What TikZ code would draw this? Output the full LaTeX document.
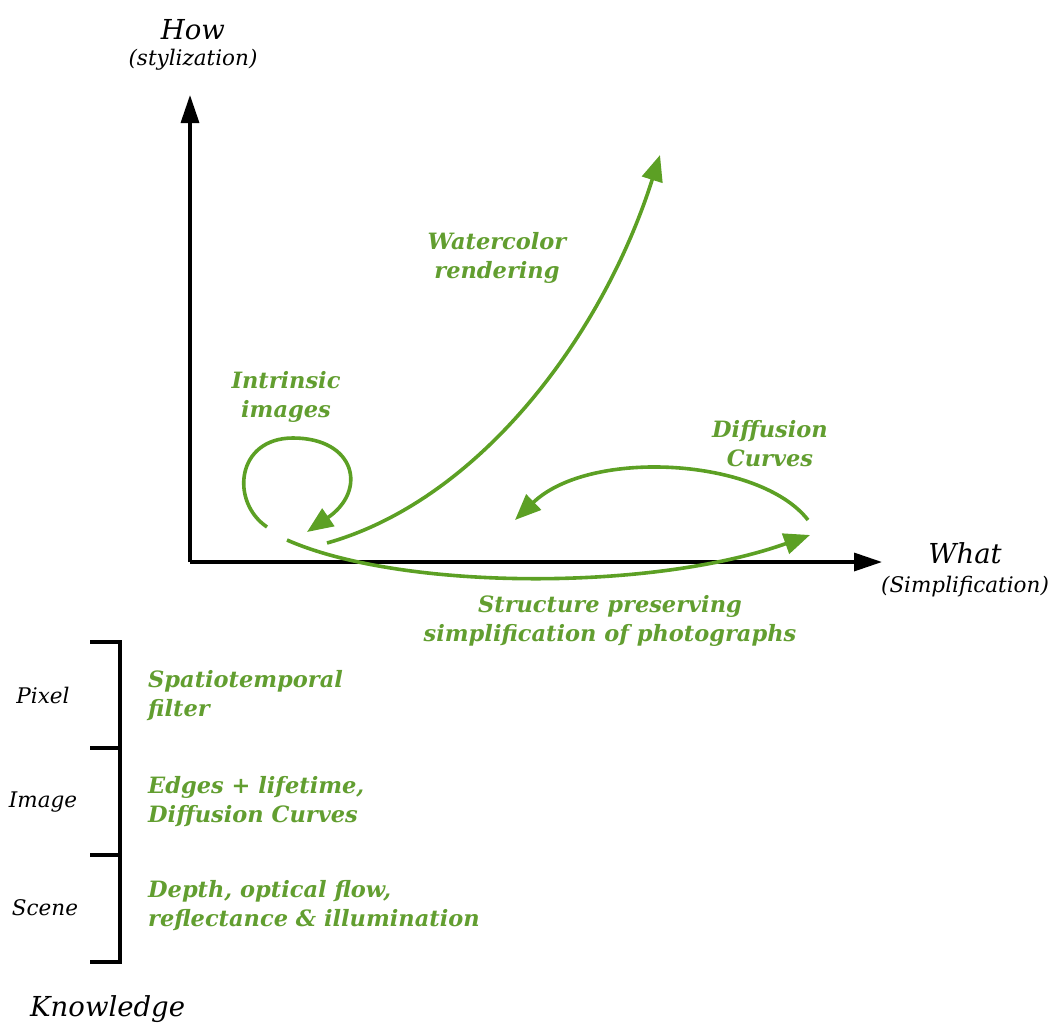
\documentclass[tikz,border=0pt]{standalone}
\usepackage{fontspec}
\setmainfont{DejaVu Serif}
\usetikzlibrary{arrows.meta}
\definecolor{grn}{RGB}{92,160,36}
\definecolor{grntxt}{RGB}{98,158,48}
\tikzset{
  axis/.style={line width=3.4pt,-{Triangle[length=28pt,width=18pt]}},
  flow/.style={draw=grn,line width=3.6pt,-{Triangle[length=26pt,width=21pt]},fill=none},
  flowplain/.style={draw=grn,line width=3.6pt},
  gtxt/.style={text=grntxt,font=\fontsize{22.5}{29}\selectfont\bfseries\itshape,inner sep=0pt},
  ktxt/.style={font=\fontsize{27.5}{32}\selectfont\itshape,inner sep=0pt},
  stxt/.style={font=\fontsize{21.5}{26}\selectfont\itshape,inner sep=0pt},
  brk/.style={line width=3.4pt}
}
\begin{document}
\begin{tikzpicture}[x=1pt,y=-1pt]
\useasboundingbox (0,0) rectangle (1052,1025);
% axes
\coordinate (O) at (190,562);
\coordinate (Ytip) at (190,95);
\coordinate (Xtip) at (882,562);
\draw[axis] (O) -- (Ytip);
\draw[axis] (O) -- (Xtip);
\node[ktxt] (how) at (193,30) {How};
\node[stxt] (sty) at (193,60) {(stylization)};
\node[ktxt] (what) at (965,553) {What};
\node[stxt] (simp) at (965,587) {(Simplification)};
% curves
\coordinate (w0) at (327,543);
\coordinate (w1) at (660,155);
\draw[flow] (w0) .. controls (480,500) and (603,335) .. (w1);
\coordinate (i0) at (267,527);
\coordinate (itop) at (293,438);
\coordinate (i1) at (307,532);
\draw[flowplain] (i0) .. controls (230,502) and (236,438) .. (itop);
\draw[flow] (itop) .. controls (355,438) and (368,490) .. (i1);
\coordinate (s0) at (287,540);
\coordinate (s1) at (810,535);
\draw[flow] (s0) .. controls (400,590) and (650,592) .. (s1);
\coordinate (d0) at (808,520);
\coordinate (d1) at (515,520);
\draw[flow] (d0) .. controls (760,458) and (590,448) .. (d1);
% labels
\node[gtxt,align=center] (wl) at (497,258) {Watercolor\\rendering};
\node[gtxt,align=center] (il) at (286,397) {Intrinsic\\images};
\node[gtxt,align=center] (dl) at (770,444) {Diffusion\\Curves};
\node[gtxt,align=center] (sl) at (610,621) {Structure preserving\\simplification of photographs};
% knowledge brackets
\coordinate (b0) at (120,642);
\coordinate (b1) at (120,748);
\coordinate (b2) at (120,855);
\coordinate (b3) at (120,962);
\draw[brk,line cap=rect] (b0) -- (b3);
\draw[brk] (b0) -- ++(-30,0);
\draw[brk] (b1) -- ++(-30,0);
\draw[brk] (b2) -- ++(-30,0);
\draw[brk] (b3) -- ++(-30,0);
\node[stxt] (pix) at (43,695) {Pixel};
\node[stxt] (img) at (43,802) {Image};
\node[stxt] (scn) at (45,908) {Scene};
\node[gtxt,align=left,anchor=west] (pl) at (148,696) {Spatiotemporal\\filter};
\node[gtxt,align=left,anchor=west] (el) at (148,802) {Edges + lifetime,\\Diffusion Curves};
\node[gtxt,align=left,anchor=west] (dp) at (148,906) {Depth, optical flow,\\reflectance \& illumination};
\node[ktxt,anchor=base west] (kn) at (30,1016) {Knowledge};
\end{tikzpicture}
\end{document}
